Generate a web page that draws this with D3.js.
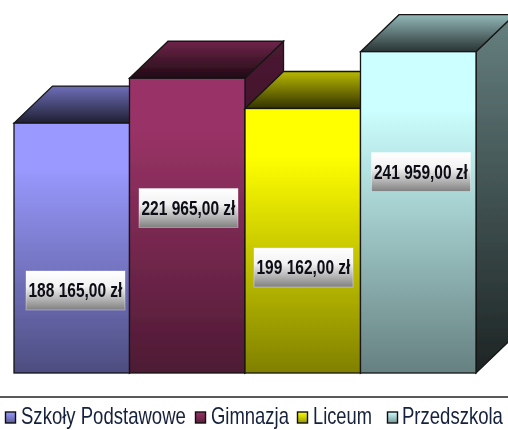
<!DOCTYPE html>
<html>
<head>
<meta charset="utf-8">
<script src="https://cdn.jsdelivr.net/npm/d3@7/dist/d3.min.js"></script>
<style>html,body{margin:0;padding:0;background:#fff;overflow:hidden}svg{display:block}</style>
</head>
<body>
<script>
const categories = ["Szkoły Podstawowe", "Gimnazja", "Liceum", "Przedszkola"];
const values = [188165, 221965, 199162, 241959];
const valueLabels = ["188 165,00 zł", "221 965,00 zł", "199 162,00 zł", "241 959,00 zł"];
const colors = ["#9999ff", "#993366", "#ffff00", "#ccffff"];

const W = 508, H = 430;
const depthX = 38.5, depthY = 37;
const labelCentersX = [75.5, 188.5, 303.5, 421];
const labelCentersY = [290.5, 208, 267.5, 172];
const legendSwatchX = [5.5, 195.5, 297.5, 387.5];
const legendTextX = [21, 211, 313, 402];
const legendTextW = [165, 78, 59, 101];

const svg = d3.select("body").append("svg").attr("width", W).attr("height", H);
const defs = svg.append("defs");
defs.append("filter").attr("id", "soft").append("feGaussianBlur").attr("stdDeviation", 0.4);

const x = d3.scaleBand().domain(categories).range([14, 476]).padding(0);
const y = d3.scaleLinear().domain([0, 250000]).range([373, 41]);

function grad(id, stops) {
  const g = defs.append("linearGradient").attr("id", id)
    .attr("x1", 0).attr("y1", 0).attr("x2", 0).attr("y2", 1);
  stops.forEach(s => g.append("stop").attr("offset", s[0]).attr("stop-color", s[1]));
}
const shade = (c, k) => { const r = d3.rgb(c); return d3.rgb(r.r * k, r.g * k, r.b * k).formatHex(); };

colors.forEach((c, i) => {
  grad("front" + i, [[0, c], [0.18, c], [1, shade(c, 0.5)]]);
  grad("top" + i, [[0, shade(c, 0.72)], [1, shade(c, 0.2)]]);
  grad("side" + i, [[0, shade(c, 0.5)], [1, shade(c, 0.14)]]);
  grad("sw" + i, [[0, c], [1, shade(c, 0.6)]]);
});
grad("labelBg", [[0, "#ffffff"], [0.4, "#f2f2f2"], [1, "#808080"]]);

const root = svg.append("g").attr("filter", "url(#soft)");
const stroke = "#141414";
const poly = pts => pts.map(p => p.join(",")).join(" ");

const bars = root.selectAll("g.bar").data(categories).join("g").attr("class", "bar");
bars.each(function (cat, i) {
  const g = d3.select(this);
  const x0 = x(cat), x1 = x0 + x.bandwidth(), yt = y(values[i]), yb = y(0);
  g.append("polygon").attr("points", poly([[x1, yt], [x1 + depthX, yt - depthY], [x1 + depthX, yb - depthY], [x1, yb]]))
    .attr("fill", `url(#side${i})`).attr("stroke", stroke).attr("stroke-width", 1.3);
  g.append("polygon").attr("points", poly([[x0, yt], [x0 + depthX, yt - depthY], [x1 + depthX, yt - depthY], [x1, yt]]))
    .attr("fill", `url(#top${i})`).attr("stroke", stroke).attr("stroke-width", 1.3);
  g.append("rect").attr("x", x0).attr("y", yt).attr("width", x1 - x0).attr("height", yb - yt)
    .attr("fill", `url(#front${i})`).attr("stroke", stroke).attr("stroke-width", 1.3);
});

// Text squeezed horizontally to the reference's tall, narrow letterforms.
function fitText(g, str, px, py, targetW, size, weight, fill) {
  const t = g.append("text").attr("font-family", "'Liberation Sans', Arial, sans-serif")
    .attr("font-size", size).attr("font-weight", weight).attr("fill", fill).text(str);
  const natural = t.node().getComputedTextLength();
  t.attr("transform", `translate(${px},${py}) scale(${targetW / natural},1)`);
}

const labels = root.selectAll("g.lab").data(categories).join("g").attr("class", "lab");
labels.each(function (cat, i) {
  const g = d3.select(this);
  const cx = labelCentersX[i], cy = labelCentersY[i];
  g.append("rect").attr("x", cx - 49.5).attr("y", cy - 19.5).attr("width", 99).attr("height", 39)
    .attr("fill", "url(#labelBg)").attr("stroke", "#ffffff").attr("stroke-opacity", 0.35);
  fitText(g, valueLabels[i], cx - 47, cy + 6.5, 94, 20, "bold", "#0a0a14");
});

root.append("line").attr("x1", 0).attr("x2", W).attr("y1", 397).attr("y2", 397)
  .attr("stroke", "#222").attr("stroke-width", 1.4);

const legend = root.selectAll("g.leg").data(categories).join("g").attr("class", "leg");
legend.each(function (cat, i) {
  const g = d3.select(this);
  g.append("rect").attr("x", legendSwatchX[i]).attr("y", 412).attr("width", 10).attr("height", 11)
    .attr("fill", `url(#sw${i})`).attr("stroke", "#111").attr("stroke-width", 1.4);
  fitText(g, cat, legendTextX[i], 423.5, legendTextW[i], 23, "normal", "#16203a");
});
</script>
</body>
</html>
